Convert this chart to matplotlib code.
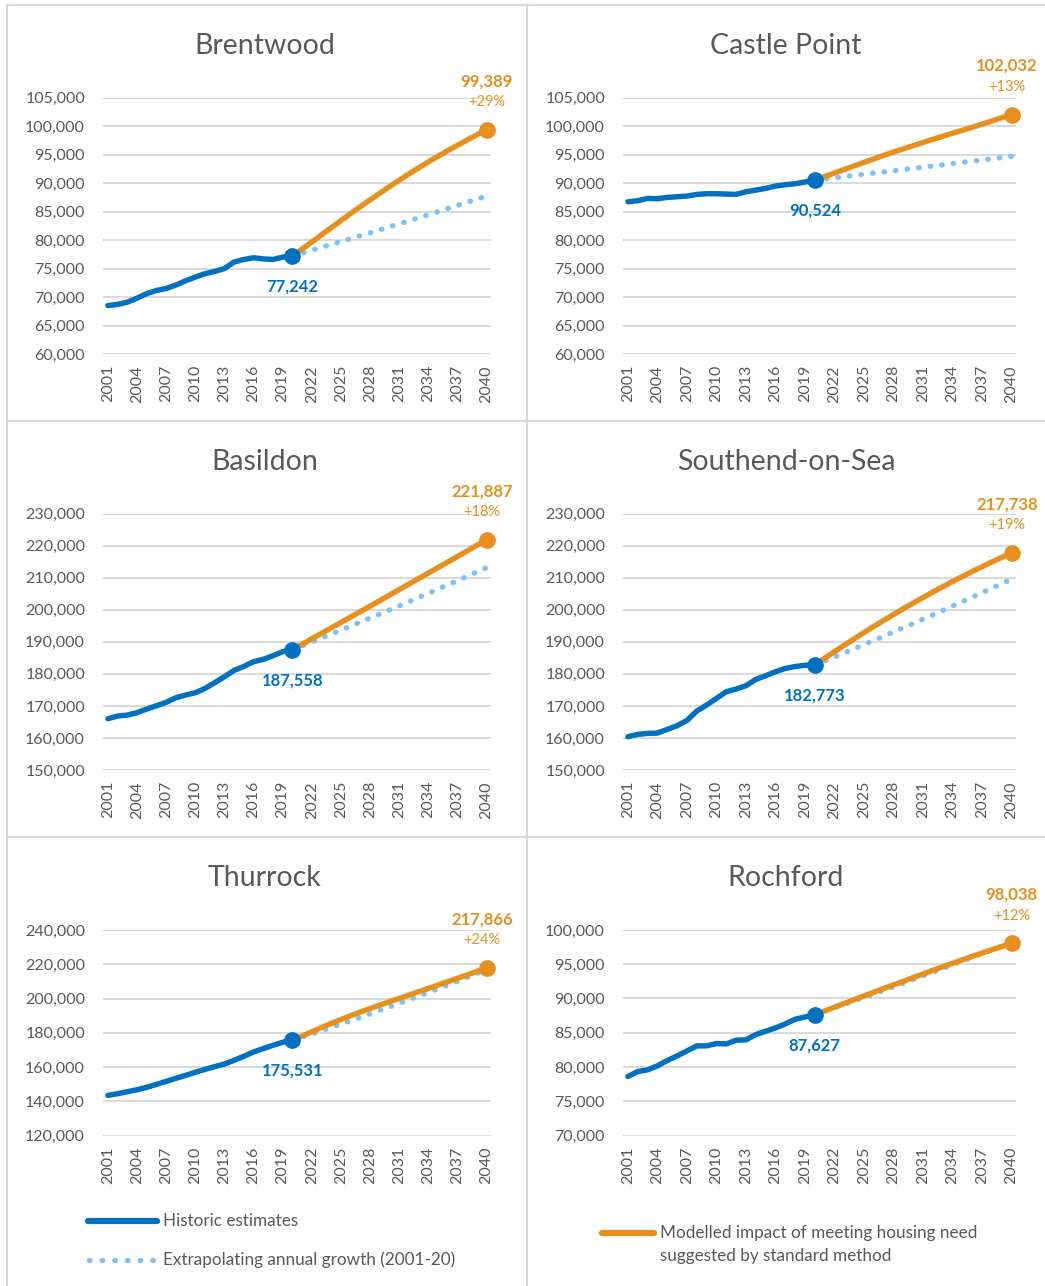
import matplotlib.pyplot as plt
from matplotlib.lines import Line2D
from matplotlib.ticker import FuncFormatter

plt.rcParams['font.family'] = ['Lato', 'DejaVu Sans']

W, H = 1045, 1286

# categories
hist_years = list(range(2001, 2021))
proj_years = list(range(2020, 2041))
tick_years = list(range(2001, 2041, 3))

# historic estimates 2001-2020
brentwood_hist = [68500, 68700, 69100, 69800, 70600, 71150, 71500, 72100, 72850, 73500,
                  74100, 74500, 75000, 76150, 76600, 76900, 76700, 76600, 77000, 77242]
castle_hist = [86730, 86910, 87320, 87260, 87490, 87610, 87730, 88020, 88140, 88140,
               88080, 88020, 88490, 88780, 89075, 89485, 89720, 89900, 90190, 90524]
basildon_hist = [166000, 166840, 167150, 167880, 169020, 170060, 171100, 172560, 173390, 174120,
                 175470, 177240, 179120, 181090, 182340, 183800, 184530, 185670, 186920, 187558]
southend_hist = [160390, 161110, 161430, 161530, 162670, 163820, 165480, 168400, 170270, 172350,
                 174430, 175270, 176310, 178280, 179430, 180680, 181700, 182300, 182700, 182773]
thurrock_hist = [143420, 144390, 145560, 146730, 148100, 149850, 151610, 153370, 155120, 156880,
                 158630, 160200, 161760, 163900, 166240, 168780, 170730, 172680, 174440, 175531]
rochford_hist = [78610, 79340, 79580, 80170, 80940, 81620, 82350, 83080, 83080, 83420,
                 83370, 83910, 83960, 84740, 85220, 85710, 86290, 86970, 87310, 87627]

# modelled impact of meeting housing need 2020-2040
brentwood_proj = [77242, 78430, 79660, 80920, 82180, 83430, 84660, 85870, 87060, 88230, 89380,
                  90510, 91610, 92680, 93720, 94730, 95710, 96660, 97580, 98480, 99389]
castle_proj = [90524, 91150, 91780, 92400, 93020, 93640, 94260, 94870, 95450, 96020, 96580,
               97140, 97690, 98230, 98760, 99280, 99800, 100360, 100920, 101480, 102032]
basildon_proj = [187558, 189250, 190950, 192650, 194350, 196050, 197750, 199450, 201150, 202870, 204590,
                 206310, 208030, 209750, 211470, 213190, 214910, 216640, 218370, 220120, 221887]
southend_proj = [182773, 184873, 186936, 188962, 190951, 192904, 194820, 196699, 198541, 200346, 202114,
                 203846, 205541, 207199, 208820, 210404, 211951, 213462, 214936, 216350, 217738]
thurrock_proj = [175531, 178100, 180600, 183050, 185400, 187750, 190000, 192100, 194150, 196150, 198100,
                 200050, 202000, 203950, 205900, 207850, 209800, 211800, 213800, 215800, 217866]
rochford_proj = [87627, 88180, 88730, 89280, 89830, 90380, 90920, 91460, 91990, 92520, 93050,
                 93580, 94110, 94630, 95140, 95650, 96150, 96640, 97120, 97590, 98038]

# extrapolating annual growth (2001-20), 2020-2040
brentwood_ext = [77242, 77736, 78234, 78734, 79238, 79745, 80255, 80769, 81286, 81806, 82330,
                 82857, 83387, 83921, 84458, 84998, 85542, 86090, 86641, 87195, 87753]
castle_ext = [90524, 90729, 90934, 91139, 91345, 91552, 91759, 91966, 92174, 92382, 92591,
              92800, 93010, 93220, 93431, 93642, 93854, 94066, 94278, 94491, 94705]
basildon_ext = [187558, 188763, 189976, 191196, 192424, 193661, 194905, 196157, 197417, 198686, 199962,
                201247, 202540, 203841, 205151, 206469, 207795, 209130, 210474, 211826, 213187]
southend_ext = [182773, 184030, 185296, 186570, 187853, 189145, 190446, 191756, 193075, 194403, 195740,
                197086, 198441, 199806, 201180, 202564, 203957, 205359, 206771, 208193, 209625]
thurrock_ext = [175531, 177398, 179284, 181191, 183118, 185066, 187034, 189023, 191033, 193065, 195118,
                197193, 199291, 201410, 203552, 205717, 207905, 210116, 212351, 214609, 216892]
rochford_ext = [87627, 88128, 88632, 89138, 89648, 90160, 90676, 91194, 91715, 92239, 92767,
                93297, 93830, 94366, 94906, 95448, 95994, 96542, 97094, 97649, 98207]

names = ['Brentwood', 'Castle Point', 'Basildon', 'Southend-on-Sea', 'Thurrock', 'Rochford']
hists = [brentwood_hist, castle_hist, basildon_hist, southend_hist, thurrock_hist, rochford_hist]
projs = [brentwood_proj, castle_proj, basildon_proj, southend_proj, thurrock_proj, rochford_proj]
exts = [brentwood_ext, castle_ext, basildon_ext, southend_ext, thurrock_ext, rochford_ext]
y_lims = [(60000, 105000), (60000, 105000), (150000, 230000), (150000, 230000),
          (120000, 240000), (70000, 100000)]
y_steps = [5000, 5000, 10000, 10000, 20000, 5000]

BLUE = '#0070C0'
ORANGE = '#E8901E'
LIGHT = '#7CC2F6'
GREY = '#595959'
GRID = '#D9D9D9'

fig = plt.figure(figsize=(W / 100, H / 100), dpi=100)

# axes boxes in pixels: (left, right, top, bottom)
cols = [(103, 491), (623, 1016)]
rows = [(97.7, 354), (513.7, 770), (930, 1135.5)]
title_y = [46, 462, 878]
box_cx = [265, 786]


def px_ax(l, r, t, b):
    return fig.add_axes([l / W, 1 - b / H, (r - l) / W, (b - t) / H])


for i, name in enumerate(names):
    ri, ci = divmod(i, 2)
    l, r = cols[ci]
    t, b = rows[ri]
    ax = px_ax(l, r, t, b)
    lo, hi = y_lims[i]
    ax.set_ylim(lo, hi)
    ax.set_yticks(list(range(lo, hi + 1, y_steps[i])))
    ax.set_xlim(2000.5, 2040.45)
    ax.set_xticks(tick_years)
    ax.set_xticklabels([str(y) for y in tick_years], rotation=90, va='top', ha='center')
    ax.yaxis.set_major_formatter(FuncFormatter(lambda v, p: f'{int(v):,}'))
    ax.tick_params(length=0, labelsize=11.5, labelcolor=GREY)
    ax.tick_params(axis='y', pad=13)
    ax.tick_params(axis='x', pad=8)
    for s in ax.spines.values():
        s.set_visible(False)
    ax.yaxis.grid(True, color=GRID, lw=1.4)
    ax.set_axisbelow(True)

    ax.plot(proj_years, exts[i], color=LIGHT, lw=3.8, linestyle=(0, (0.1, 2.1)),
            dash_capstyle='round', zorder=2, clip_on=False)
    ax.plot(proj_years, projs[i], color=ORANGE, lw=3.9, solid_capstyle='round', zorder=3,
            clip_on=False)
    ax.plot(hist_years, hists[i], color=BLUE, lw=3.9, solid_capstyle='round', zorder=4,
            clip_on=False)
    ax.plot([hist_years[-1]], [hists[i][-1]], 'o', color=BLUE, ms=11, zorder=5, clip_on=False)
    ax.plot([proj_years[-1]], [projs[i][-1]], 'o', color=ORANGE, ms=11, zorder=5, clip_on=False)

    start, end = hists[i][-1], projs[i][-1]
    ax.annotate(f'{start:,}', (hist_years[-1], start), xytext=(0, -22), textcoords='offset points',
                ha='center', va='center', color=BLUE, fontsize=12, fontweight='bold')
    shift = -3.5 if end >= 100000 else 0
    ax.annotate(f'{end:,}', (proj_years[-1], end), xytext=(shift, 35), textcoords='offset points',
                ha='center', va='center', color=ORANGE, fontsize=12, fontweight='bold',
                annotation_clip=False)
    pct = round((end / start - 1) * 100)
    ax.annotate(f'+{pct}%', (proj_years[-1], end), xytext=(shift, 20), textcoords='offset points',
                ha='center', va='center', color=ORANGE, fontsize=10.5, annotation_clip=False)

    fig.text(box_cx[ci] / W, 1 - title_y[ri] / H, name, ha='center', va='center',
             fontsize=20.5, color=GREY)

# chart borders
def fig_line(xs, ys, **kw):
    fig.add_artist(Line2D([x / W for x in xs], [1 - y / H for y in ys], **kw))


for x in (7, 527):
    fig_line([x, x], [5, H], color=GRID, lw=1.5)
for y in (5, 421, 837):
    fig_line([7, W], [y, y], color=GRID, lw=1.5)

# legend
fig_line([88, 157], [1221, 1221], color=BLUE, lw=4.5, solid_capstyle='round')
fig.text(163 / W, 1 - 1221 / H, 'Historic estimates', ha='left', va='center',
         fontsize=12.3, color=GREY)
fig_line([89, 153], [1260, 1260], color=LIGHT, lw=3.8, linestyle=(0, (0.1, 2.3)),
         dash_capstyle='round')
fig.text(163 / W, 1 - 1260 / H, 'Extrapolating annual growth (2001-20)', ha='left',
         va='center', fontsize=12.3, color=GREY)
fig_line([602, 654], [1233, 1233], color=ORANGE, lw=4.5, solid_capstyle='round')
fig.text(660 / W, 1 - 1233 / H, 'Modelled impact of meeting housing need', ha='left',
         va='center', fontsize=12.3, color=GREY)
fig.text(660 / W, 1 - 1256 / H, 'suggested by standard method', ha='left',
         va='center', fontsize=12.3, color=GREY)

fig.savefig('out.png', dpi=100)
